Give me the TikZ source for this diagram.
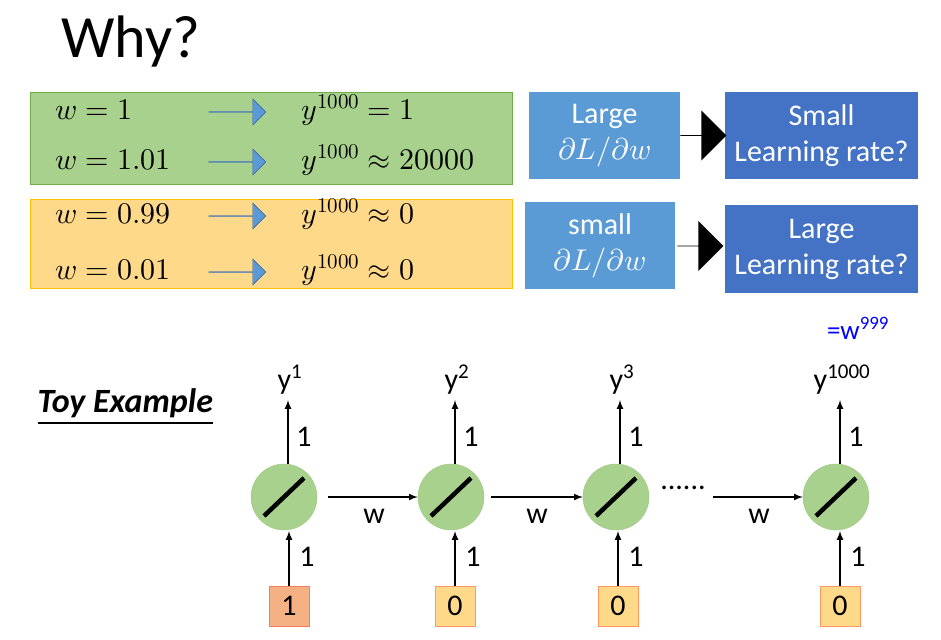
\documentclass[tikz,border=0pt]{standalone}
\usepackage{fontspec}
\usepackage{unicode-math}
\setmainfont{Carlito}
\setmathfont{Latin Modern Math}
\usetikzlibrary{shapes.arrows}
\definecolor{gfill}{HTML}{A9D18E}
\definecolor{gdraw}{HTML}{70AD47}
\definecolor{ofill}{HTML}{FFD98A}
\definecolor{odraw}{HTML}{FFC000}
\definecolor{lblue}{HTML}{5B9BD5}
\definecolor{dblue}{HTML}{4472C4}
\definecolor{nfill}{HTML}{A9D18E}
\definecolor{redin}{HTML}{F4B183}
\definecolor{yelin}{HTML}{FFD98A}
\begin{document}
\begin{tikzpicture}[x=1pt,y=-1pt,
  bluearrow/.style={single arrow,draw=dblue!80!black,fill=lblue,minimum height=57pt,minimum width=26pt,single arrow head extend=5pt,inner sep=0pt},
  blk/.style={single arrow,fill=black,minimum height=46pt,minimum width=50pt,single arrow head extend=10pt,inner sep=0pt},
  mth/.style={anchor=west,font=\fontsize{30}{34}\selectfont},
  lbox/.style={draw=none,text=white,align=center,font=\fontsize{30}{36}\selectfont,inner sep=0pt},
  neuron/.style={circle,draw=gdraw!70,fill=nfill,minimum size=66pt,inner sep=0pt},
  inbox/.style={draw,minimum size=40pt,inner sep=0pt,font=\fontsize{30}{34}\selectfont},
  arr/.style={-latex,line width=2pt},
  lab/.style={font=\fontsize{30}{34}\selectfont}]
\useasboundingbox (0,0) rectangle (941,639);
\node[anchor=west,font=\fontsize{60}{66}\selectfont] (why) at (58,42) {Why?};
% left boxes
\node[draw=gdraw,fill=gfill,minimum width=482pt,minimum height=92pt,anchor=north west,inner sep=0pt] (gb) at (30,92) {};
\node[draw=odraw,fill=ofill,minimum width=482pt,minimum height=89pt,anchor=north west,inner sep=0pt] (ob) at (30,199) {};
\foreach \i/\y/\a/\b in {1/110/{w=1}/{y^{1000}=1},2/160/{w=1.01}/{y^{1000}\approx 20000},3/214/{w=0.99}/{y^{1000}\approx 0},4/270/{w=0.01}/{y^{1000}\approx 0}}{
  \node[mth] (a\i) at (52,\y) {$\a$};
  \node[bluearrow] (ar\i) at (237,\y+2) {};
  \node[mth] (b\i) at (298,\y) {$\b$};
}
% right boxes
\node[lbox,fill=lblue,minimum width=151pt,minimum height=87pt] (l1) at (604.5,135.5) {Large\\ $\partial L/\partial w$};
\node[lbox,fill=dblue,minimum width=193pt,minimum height=87pt] (r1) at (821.5,135.5) {Small\\ Learning rate?};
\node[blk] (k1) at (703,135.5) {};
\node[lbox,fill=lblue,minimum width=150pt,minimum height=87pt] (l2) at (600,245.5) {small\\ $\partial L/\partial w$};
\node[lbox,fill=dblue,minimum width=193pt,minimum height=88pt] (r2) at (821.5,249) {Large\\ Learning rate?};
\node[blk] (k2) at (700,246) {};
\node[text=blue,font=\fontsize{27}{30}\selectfont] (w999) at (858,328) {=w\textsuperscript{999}};
\node[font=\bfseries\itshape\fontsize{34}{38}\selectfont,anchor=west] (toy) at (34,407) {\underline{Toy Example}};
% chain
\foreach \i/\x/\v/\col/\ix/\lb in {1/284/1/redin/289/1,2/451/0/yelin/455/2,3/616/0/yelin/618/3,4/836/0/yelin/840/1000}{
  \node[neuron] (n\i) at (\x,497) {};
  \draw[line width=4.5pt] (\x-20,497+19) -- (\x+20,497-19);
  \node[inbox,fill=\col,draw=\col!70!red] (in\i) at (\ix,606) {\v};
  \node[lab] (y\i) at (\x+6,380) {y\textsuperscript{\lb}};
  \coordinate (t\i) at (\x+4,400);
  \draw[arr] (\x+4,464) -- (t\i);
  \node[lab] at (\x+20,437) {1};
  \draw[arr] (in\i.north) -- (\ix,531);
  \node[lab] at (\ix+18,557) {1};
}
\draw[arr] (328,497) -- (n2);
\draw[arr] (491,497) -- (n3);
\draw[arr] (713,497) -- (n4);
\node[lab] at (374,516) {w};
\node[lab] at (537,516) {w};
\node[lab] at (759,516) {w};
\node[lab] at (683,488) {......};
\end{tikzpicture}
\end{document}
